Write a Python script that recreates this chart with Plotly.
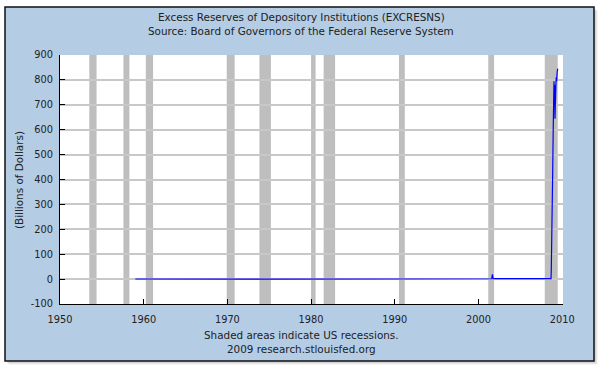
import plotly.graph_objects as go

# ---- data ----
obs_dates = [1959.00, 1960.00, 1961.00, 1962.00, 1963.00, 1964.00, 1965.00, 1966.00,
             1967.00, 1968.00, 1969.00, 1970.00, 1971.00, 1972.00, 1973.00, 1974.00,
             1975.00, 1976.00, 1977.00, 1978.00, 1979.00, 1980.00, 1981.00, 1982.00,
             1983.00, 1984.00, 1985.00, 1986.00, 1987.00, 1988.00, 1989.00, 1990.00,
             1991.00, 1992.00, 1993.00, 1994.00, 1995.00, 1996.00, 1997.00, 1998.00,
             1999.00, 2000.00, 2001.00, 2001.58, 2001.67, 2001.75, 2002.00, 2003.00,
             2003.58, 2003.67, 2003.75, 2004.00, 2005.00, 2006.00, 2007.00, 2007.58,
             2007.67, 2007.75, 2008.00, 2008.50, 2008.67, 2008.70, 2008.78, 2008.86,
             2008.93, 2008.98, 2009.02, 2009.06, 2009.10, 2009.14, 2009.18, 2009.22,
             2009.26, 2009.30, 2009.34, 2009.40, 2009.47]
obs_values = [0.5, 0.7, 0.5, 0.4, 0.4, 0.4, 0.4, 0.4,
              0.3, 0.4, 0.3, 0.2, 0.3, 0.2, 0.3, 0.2,
              0.3, 0.2, 0.2, 0.3, 0.4, 0.5, 0.4, 0.5,
              0.6, 0.9, 1.2, 1.1, 1.0, 1.1, 1.0, 1.3,
              1.0, 1.3, 1.1, 1.0, 1.0, 1.3, 1.4, 1.3,
              1.3, 1.0, 1.3, 1.4, 19.0, 1.5, 1.6, 1.7,
              1.7, 4.5, 1.8, 1.7, 1.8, 1.7, 1.6, 1.7,
              4.0, 1.8, 1.7, 1.9, 2.0, 36.0, 164.0, 412.0,
              600.0, 784.0, 795.0, 700.0, 780.0, 644.0, 760.0, 700.0,
              790.0, 810.0, 795.0, 830.0, 845.0]

recession_start = [1953.50, 1957.58, 1960.25, 1969.92, 1973.83, 1980.00, 1981.50, 1990.50, 2001.17, 2007.92]
recession_end   = [1954.37, 1958.29, 1961.12, 1970.87, 1975.20, 1980.54, 1982.87, 1991.20, 2001.87, 2009.47]

x_ticks = [1950, 1960, 1970, 1980, 1990, 2000, 2010]
x_tick_labels = ["1950", "1960", "1970", "1980", "1990", "2000", "2010"]
y_ticks = [-100, 0, 100, 200, 300, 400, 500, 600, 700, 800, 900]
y_tick_labels = ["-100", "0", "100", "200", "300", "400", "500", "600", "700", "800", "900"]

title_lines = ["Excess Reserves of Depository Institutions (EXCRESNS)",
               "Source: Board of Governors of the Federal Reserve System"]
footer_lines = ["Shaded areas indicate US recessions.",
                "2009 research.stlouisfed.org"]
y_title = "(Billions of Dollars)"

# ---- geometry (pixels) ----
W, H = 600, 375
L, R, T, B = 60, 563, 55, 304
pw, ph = R - L, B - T

def px(xp):
    return (xp - L) / pw

def py(yp):
    return (B - yp) / ph

FONT = "DejaVu Sans"
TXT = "#222222"
BG = "#b4cce4"

fig = go.Figure()
fig.add_trace(go.Scatter(x=obs_dates, y=obs_values, mode="lines",
                         line=dict(color="#0000ff", width=1.2), hoverinfo="skip"))

shapes = []
# shadow
for off, a in [(4, 0.04), (3, 0.06), (2, 0.08)]:
    shapes.append(dict(type="rect", xref="paper", yref="paper", layer="below",
                       x0=px(5 + off), x1=px(594 + off), y0=py(361 + off), y1=py(7 + off),
                       fillcolor=f"rgba(0,0,0,{a})", line=dict(width=0)))
# frame
shapes.append(dict(type="rect", xref="paper", yref="paper", layer="below",
                   x0=px(5), x1=px(594), y0=py(361), y1=py(7),
                   fillcolor=BG, line=dict(color="#111111", width=1.5)))
# plot area
shapes.append(dict(type="rect", xref="paper", yref="paper", layer="below",
                   x0=0, x1=1, y0=0, y1=1, fillcolor="white", line=dict(width=0)))
for s, e in zip(recession_start, recession_end):
    shapes.append(dict(type="rect", xref="x", yref="paper", layer="below",
                       x0=s, x1=e, y0=0, y1=1, fillcolor="#bebebe", line=dict(width=0)))

annotations = []
for i, t in enumerate(title_lines):
    annotations.append(dict(text=t, xref="paper", yref="paper", x=px(301), y=py(17 + 14 * i),
                            showarrow=False, xanchor="center", yanchor="middle",
                            font=dict(family=FONT, size=10.4, color=TXT)))
for i, t in enumerate(footer_lines):
    annotations.append(dict(text=t, xref="paper", yref="paper", x=px(301), y=py(335 + 14 * i),
                            showarrow=False, xanchor="center", yanchor="middle",
                            font=dict(family=FONT, size=10.4, color=TXT)))
annotations.append(dict(text=y_title, xref="paper", yref="paper", x=px(19), y=py(180),
                        showarrow=False, textangle=-90, xanchor="center", yanchor="middle",
                        font=dict(family=FONT, size=10.4, color=TXT)))

fig.update_layout(
    width=W, height=H,
    margin=dict(l=L, r=W - R, t=T, b=H - B, pad=0),
    paper_bgcolor="white", plot_bgcolor="white",
    showlegend=False,
    shapes=shapes, annotations=annotations,
    xaxis=dict(range=[1950, 2010.1], tickvals=x_ticks, ticktext=x_tick_labels,
               ticks="inside", ticklen=5,
               tickcolor="black", showline=True, linecolor="black", linewidth=1,
               showgrid=False, zeroline=False, ticklabelstandoff=6,
               tickfont=dict(family=FONT, size=9.8, color=TXT), fixedrange=True),
    yaxis=dict(range=[-100, 900], tickvals=y_ticks, ticktext=y_tick_labels,
               ticks="inside", ticklen=5,
               tickcolor="black", showline=True, linecolor="black", linewidth=1,
               showgrid=True, gridcolor="#c8c8c8", gridwidth=1.5, zeroline=False,
               ticklabelstandoff=4,
               tickfont=dict(family=FONT, size=9.8, color=TXT), fixedrange=True),
)

fig.write_html("out.html", config={"displayModeBar": False})

# remove the browser's default page margin so the figure sits at (0, 0)
with open("out.html", "r", encoding="utf-8") as f:
    html = f.read()
html = html.replace("<head>", "<head><style>html,body{margin:0;padding:0;}</style>", 1)
with open("out.html", "w", encoding="utf-8") as f:
    f.write(html)
